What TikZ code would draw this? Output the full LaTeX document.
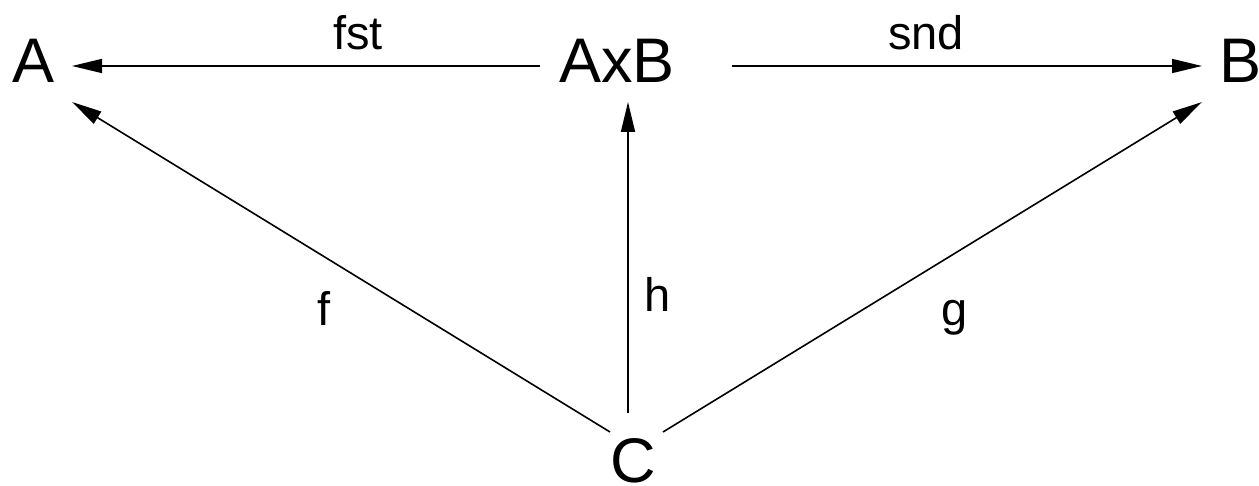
\documentclass[tikz,border=0pt]{standalone}
\usepackage{fontspec}
\setmainfont{Liberation Sans}
\usetikzlibrary{arrows.meta}
\begin{document}
\begin{tikzpicture}[x=1pt,y=-1pt,
  obj/.style={inner sep=0pt,anchor=base west,font=\fontsize{63}{70}\selectfont},
  lbl/.style={inner sep=0pt,anchor=base west,font=\fontsize{47}{54}\selectfont},
  arr/.style={line width=1.6pt,-{Triangle[length=30pt,width=14pt]}}]
\useasboundingbox (0,0) rectangle (1259,486);
\node[obj] (A) at (12,83) {A};
\node[obj] (AxB) at (559,83) {AxB};
\node[obj] (B) at (1219,83) {B};
\node[obj] (C) at (610,482) {C};
\node[lbl] (fst) at (333,50) {fst};
\node[lbl] (snd) at (888,50) {snd};
\node[lbl] (f) at (317,326) {f};
\node[lbl] (h) at (644,312) {h};
\node[lbl] (g) at (941,326) {g};
\draw[arr] ([shift={(-19,-17)}]AxB.base west) -- ([shift={(60,-17)}]A.base west);
\draw[arr] ([shift={(173,-17)}]AxB.base west) -- ([shift={(-17,-17)}]B.base west);
\draw[arr] ([shift={(0,-50)}]C.base west) -- ([shift={(60,19)}]A.base west);
\draw[arr] ([shift={(18,-69)}]C.base west) -- ([shift={(69,19)}]AxB.base west);
\draw[arr] ([shift={(53,-50)}]C.base west) -- ([shift={(-17,19)}]B.base west);
\end{tikzpicture}
\end{document}
